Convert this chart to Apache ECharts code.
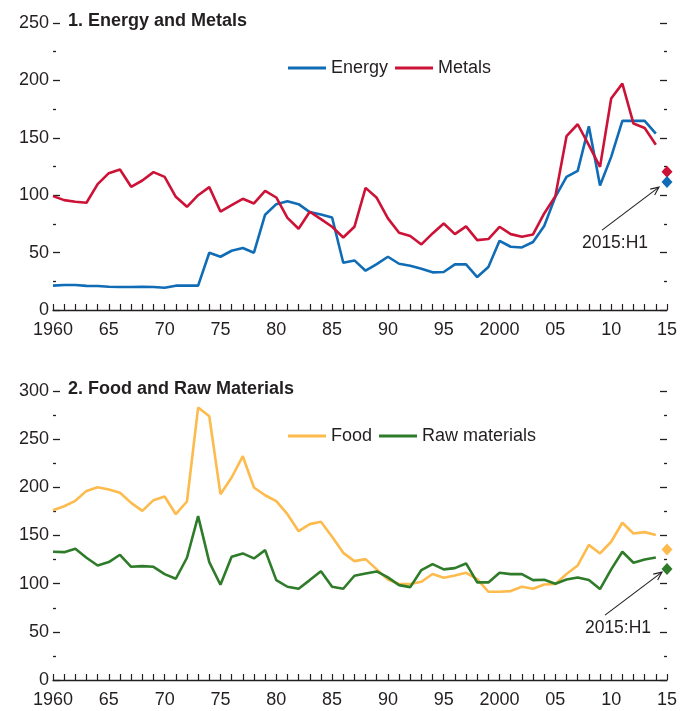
<!DOCTYPE html>
<html>
<head>
<meta charset="utf-8">
<script src="https://cdn.jsdelivr.net/npm/echarts@6/dist/echarts.min.js"></script>
<style>
  html, body { margin: 0; padding: 0; background: #ffffff; }
  #chart { width: 688px; height: 711px; }
</style>
</head>
<body>
<div id="chart"></div>
<script>
// Commodity price indices, annual 1960-2014, plus first half of 2015
const years = [
  1960, 1961, 1962, 1963, 1964, 1965, 1966, 1967, 1968, 1969,
  1970, 1971, 1972, 1973, 1974, 1975, 1976, 1977, 1978, 1979,
  1980, 1981, 1982, 1983, 1984, 1985, 1986, 1987, 1988, 1989,
  1990, 1991, 1992, 1993, 1994, 1995, 1996, 1997, 1998, 1999,
  2000, 2001, 2002, 2003, 2004, 2005, 2006, 2007, 2008, 2009,
  2010, 2011, 2012, 2013, 2014
];

const energy = [
  21.2, 21.8, 21.8, 21.0, 20.9, 20.3, 20.0, 20.0, 20.3, 20.0,
  19.4, 21.2, 21.2, 21.2, 49.9, 46.4, 51.6, 54.0, 49.9, 83.0,
  92.2, 94.8, 92.2, 85.3, 83.2, 80.6, 41.2, 43.2, 34.2, 40.0,
  46.4, 40.3, 38.6, 36.0, 32.8, 33.1, 39.7, 39.7, 28.7, 37.4,
  60.3, 55.1, 54.5, 59.2, 73.1, 98.6, 116.0, 121.2, 160.0, 108.5,
  133.4, 164.7, 164.7, 164.7, 153.7
];

const metals = [
  99.2, 95.7, 94.3, 93.4, 109.6, 119.2, 122.4, 107.3, 112.8, 120.1,
  116.0, 98.6, 89.9, 100.0, 107.0, 85.8, 91.4, 96.9, 92.8, 103.8,
  98.0, 80.3, 70.8, 85.6, 79.2, 72.5, 63.2, 72.5, 106.4, 97.7,
  79.8, 67.3, 64.4, 57.1, 66.7, 75.4, 66.1, 72.8, 60.9, 61.8,
  72.5, 66.1, 63.8, 65.8, 84.1, 99.2, 151.4, 161.8, 143.6, 124.7,
  184.2, 197.2, 162.4, 158.6, 143.9
];

const food = [
  176.3, 180.4, 186.0, 196.3, 200.1, 197.7, 194.3, 183.9, 175.6, 186.7,
  190.5, 172.1, 185.3, 282.8, 273.8, 192.9, 210.2, 232.3, 199.8, 191.8,
  185.6, 172.1, 154.5, 161.8, 164.2, 148.6, 132.0, 123.4, 125.5, 114.8,
  104.4, 99.6, 99.6, 102.0, 110.0, 106.1, 108.5, 111.3, 104.7, 91.6,
  91.6, 92.3, 96.8, 94.7, 99.2, 99.6, 110.0, 118.9, 140.3, 131.4,
  143.5, 163.2, 152.1, 153.5, 150.4
];

const rawMaterials = [
  133.1, 132.7, 136.2, 126.9, 118.9, 122.4, 130.0, 117.5, 118.2, 117.5,
  109.9, 105.1, 126.9, 170.1, 122.4, 98.9, 127.9, 131.4, 126.2, 134.8,
  103.7, 96.8, 94.7, 103.7, 113.0, 96.8, 94.7, 108.2, 110.6, 112.7,
  106.5, 98.5, 96.4, 114.1, 120.3, 114.8, 116.1, 121.0, 101.3, 101.3,
  111.3, 109.9, 109.9, 103.7, 104.0, 99.9, 104.4, 106.5, 103.7, 94.4,
  114.8, 133.1, 121.7, 125.1, 127.2
];

// 2015:H1 averages
const h1Year = 2015;
const h1Label = '2015:H1';
const energyH1 = 111.4;
const metalsH1 = 120.4;
const foodH1 = 135.5;
const rawMaterialsH1 = 115.1;

const FONT = "'Liberation Sans', Arial, sans-serif";
const INK = '#231f20';
const C_ENERGY = '#116cb6';
const C_METALS = '#cc1236';
const C_FOOD = '#fdbb4d';
const C_RAW = '#2e7b29';

const pairs = (vals) => vals.map((v, i) => [years[i], v]);

function xAxisFor(gridIndex) {
  return {
    type: 'value', gridIndex, min: 1960, max: 2015, interval: 5,
    axisLine: { show: true, lineStyle: { color: INK, width: 1.3 } },
    axisTick: { show: true, inside: true, length: 6, lineStyle: { color: INK, width: 1.2 } },
    minorTick: { show: true, splitNumber: 5, length: 6, lineStyle: { color: INK, width: 1.2 } },
    splitLine: { show: false },
    axisLabel: {
      color: INK, fontFamily: FONT, fontSize: 18, margin: 11,
      formatter: (v) => (v === 1960 || v === 2000) ? String(v) : String(v % 100).padStart(2, '0')
    }
  };
}

function yAxisFor(gridIndex, max, position, showLabels) {
  return {
    type: 'value', gridIndex, min: 0, max, interval: 50, position,
    axisLine: { show: false },
    axisTick: { show: true, inside: true, length: 7, lineStyle: { color: INK, width: 1.3 } },
    minorTick: { show: true, splitNumber: 2, length: 3, lineStyle: { color: INK, width: 1.3 } },
    splitLine: { show: false },
    axisLabel: { show: showLabels, color: INK, fontFamily: FONT, fontSize: 18, margin: 4 }
  };
}

function lineSeries(name, vals, color, xi, yi) {
  return {
    name, type: 'line', xAxisIndex: xi, yAxisIndex: yi,
    data: pairs(vals), showSymbol: false, symbol: 'none', animation: false,
    lineStyle: { color, width: 2.6 }, itemStyle: { color }
  };
}

function h1Point(name, value, color, xi, yi) {
  return {
    name, type: 'scatter', xAxisIndex: xi, yAxisIndex: yi,
    data: [[h1Year, value]], symbol: 'diamond', symbolSize: [11, 12],
    itemStyle: { color, opacity: 1 }, animation: false, clip: false, silent: true
  };
}

const chart = echarts.init(document.getElementById('chart'), null, { renderer: 'canvas' });

const legendText = { color: INK, fontFamily: FONT, fontSize: 18 };

chart.setOption({
  backgroundColor: '#ffffff',
  animation: false,
  title: [
    { text: '1. Energy and Metals', left: 68, top: 12, padding: 0,
      textStyle: { color: INK, fontFamily: FONT, fontSize: 18, fontWeight: 'bold' } },
    { text: '2. Food and Raw Materials', left: 68, top: 380, padding: 0,
      textStyle: { color: INK, fontFamily: FONT, fontSize: 18, fontWeight: 'bold' } }
  ],
  legend: [
    { data: ['Energy', 'Metals'], left: 288, top: 59, padding: 0, itemGap: 7,
      icon: 'rect', itemWidth: 38, itemHeight: 3, textStyle: legendText },
    { data: ['Food', 'Raw materials'], left: 288, top: 427, padding: 0, itemGap: 7,
      icon: 'rect', itemWidth: 38, itemHeight: 3, textStyle: legendText }
  ],
  grid: [
    { left: 53, right: 21, top: 23, height: 287 },
    { left: 53, right: 21, top: 391, height: 289 }
  ],
  xAxis: [xAxisFor(0), xAxisFor(1)],
  yAxis: [
    yAxisFor(0, 250, 'left', true), yAxisFor(0, 250, 'right', false),
    yAxisFor(1, 300, 'left', true), yAxisFor(1, 300, 'right', false)
  ],
  series: [
    lineSeries('Energy', energy, C_ENERGY, 0, 0),
    lineSeries('Metals', metals, C_METALS, 0, 0),
    h1Point('Metals H1', metalsH1, C_METALS, 0, 0),
    h1Point('Energy H1', energyH1, C_ENERGY, 0, 0),
    lineSeries('Food', food, C_FOOD, 1, 2),
    lineSeries('Raw materials', rawMaterials, C_RAW, 1, 2),
    h1Point('Food H1', foodH1, C_FOOD, 1, 2),
    h1Point('Raw materials H1', rawMaterialsH1, C_RAW, 1, 2)
  ]
});

// Annotation arrows pointing at the lower 2015:H1 diamond of each panel
function annotation(gridIndex, value, tipOffset) {
  const p = chart.convertToPixel({ gridIndex }, [h1Year, value]);
  const tip = [p[0] + tipOffset[0], p[1] + tipOffset[1]];
  const tail = [tip[0] - 57, tip[1] + 43];
  const ang = Math.atan2(tip[1] - tail[1], tip[0] - tail[0]);
  const hl = 9, spread = 0.42;
  const h1 = [tip[0] - hl * Math.cos(ang - spread), tip[1] - hl * Math.sin(ang - spread)];
  const h2 = [tip[0] - hl * Math.cos(ang + spread), tip[1] - hl * Math.sin(ang + spread)];
  const stroke = { stroke: INK, lineWidth: 1.1, fill: null };
  return [
    { type: 'polyline', shape: { points: [tail, tip] }, style: stroke, z: 10 },
    { type: 'polyline', shape: { points: [h1, tip, h2] }, style: stroke, z: 10 },
    { type: 'text', x: tail[0] + 13, y: tail[1] + 13, z: 10,
      style: { text: h1Label, fill: INK, font: '17.5px ' + FONT, align: 'center', verticalAlign: 'middle' } }
  ];
}

chart.setOption({
  graphic: [].concat(
    annotation(0, energyH1, [-8, 5]),
    annotation(1, rawMaterialsH1, [-5, 3])
  )
});
</script>
</body>
</html>
